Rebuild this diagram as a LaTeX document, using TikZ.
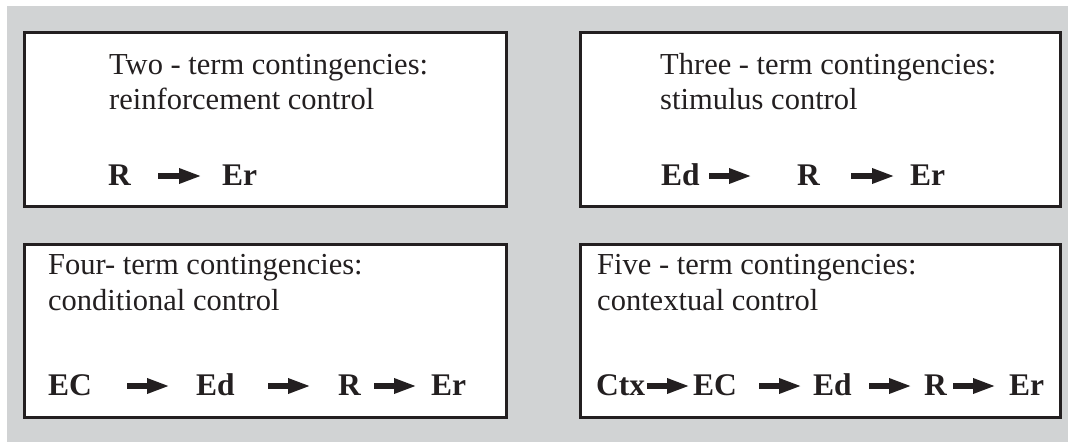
\documentclass[tikz,border=0pt]{standalone}
\usepackage{fontspec}
\setmainfont{Liberation Serif}
\usetikzlibrary{arrows.meta}
\definecolor{bggray}{HTML}{D1D3D4}
\definecolor{ink}{HTML}{231F20}
\tikzset{
  panel/.style={draw=ink, line width=3pt, fill=white},
  titletext/.style={anchor=base west, inner sep=0pt, text=ink, font=\fontsize{30.5}{36}\selectfont},
  termtext/.style={anchor=base west, inner sep=0pt, text=ink, font=\fontsize{31.5}{36}\selectfont\bfseries},
  bigarrow/.style={draw=ink, line width=6pt, -{Triangle[length=23pt,width=14pt]}}
}
\begin{document}
\begin{tikzpicture}[x=1pt,y=-1pt]
\useasboundingbox (0,0) rectangle (1068,442);
\fill[white] (0,0) rectangle (1068,442);
\fill[bggray] (7,6) rectangle (1068,442);
% panels
\draw[panel] (24,32) rectangle (506,206);
\draw[panel] (580,32) rectangle (1060,206);
\draw[panel] (24,244) rectangle (506,417);
\draw[panel] (580,244) rectangle (1060,417);
% Panel 1
\node[titletext] (p1a) at (109,74) {Two - term contingencies:};
\node[titletext] (p1b) at (109,109) {reinforcement control};
\node[termtext] (p1r) at (108,185) {R};
\node[termtext] (p1er) at (222,185) {Er};
\coordinate (a1s) at (158,176); \coordinate (a1e) at (202,176);
\draw[bigarrow] (a1s) -- (a1e);
% Panel 2
\node[titletext] (p2a) at (660,74) {Three - term contingencies:};
\node[titletext] (p2b) at (660,109) {stimulus control};
\node[termtext] (p2ed) at (661,185) {Ed};
\node[termtext] (p2r) at (797,185) {R};
\node[termtext] (p2er) at (910,185) {Er};
\coordinate (a2s) at (709,176); \coordinate (a2e) at (752,176);
\coordinate (a3s) at (851,176); \coordinate (a3e) at (895,176);
\draw[bigarrow] (a2s) -- (a2e);
\draw[bigarrow] (a3s) -- (a3e);
% Panel 3
\node[titletext] (p3a) at (48,274) {Four- term contingencies:};
\node[titletext] (p3b) at (48,310) {conditional control};
\node[termtext] (p3ec) at (48,395) {EC};
\node[termtext] (p3ed) at (196,395) {Ed};
\node[termtext] (p3r) at (338,395) {R};
\node[termtext] (p3er) at (431,395) {Er};
\coordinate (a4s) at (127,386); \coordinate (a4e) at (170,386);
\coordinate (a5s) at (268,386); \coordinate (a5e) at (311,386);
\coordinate (a6s) at (374,386); \coordinate (a6e) at (417,386);
\draw[bigarrow] (a4s) -- (a4e);
\draw[bigarrow] (a5s) -- (a5e);
\draw[bigarrow] (a6s) -- (a6e);
% Panel 4
\node[titletext] (p4a) at (597,274) {Five - term contingencies:};
\node[titletext] (p4b) at (597,310) {contextual control};
\node[termtext] (p4ctx) at (596,395) {Ctx};
\node[termtext] (p4ec) at (693,395) {EC};
\node[termtext] (p4ed) at (813,395) {Ed};
\node[termtext] (p4r) at (924,395) {R};
\node[termtext] (p4er) at (1009,395) {Er};
\coordinate (a7s) at (647,386); \coordinate (a7e) at (690,386);
\coordinate (a8s) at (759,386); \coordinate (a8e) at (802,386);
\coordinate (a9s) at (869,386); \coordinate (a9e) at (912,386);
\coordinate (a10s) at (953,386); \coordinate (a10e) at (996,386);
\draw[bigarrow] (a7s) -- (a7e);
\draw[bigarrow] (a8s) -- (a8e);
\draw[bigarrow] (a9s) -- (a9e);
\draw[bigarrow] (a10s) -- (a10e);
\end{tikzpicture}
\end{document}
